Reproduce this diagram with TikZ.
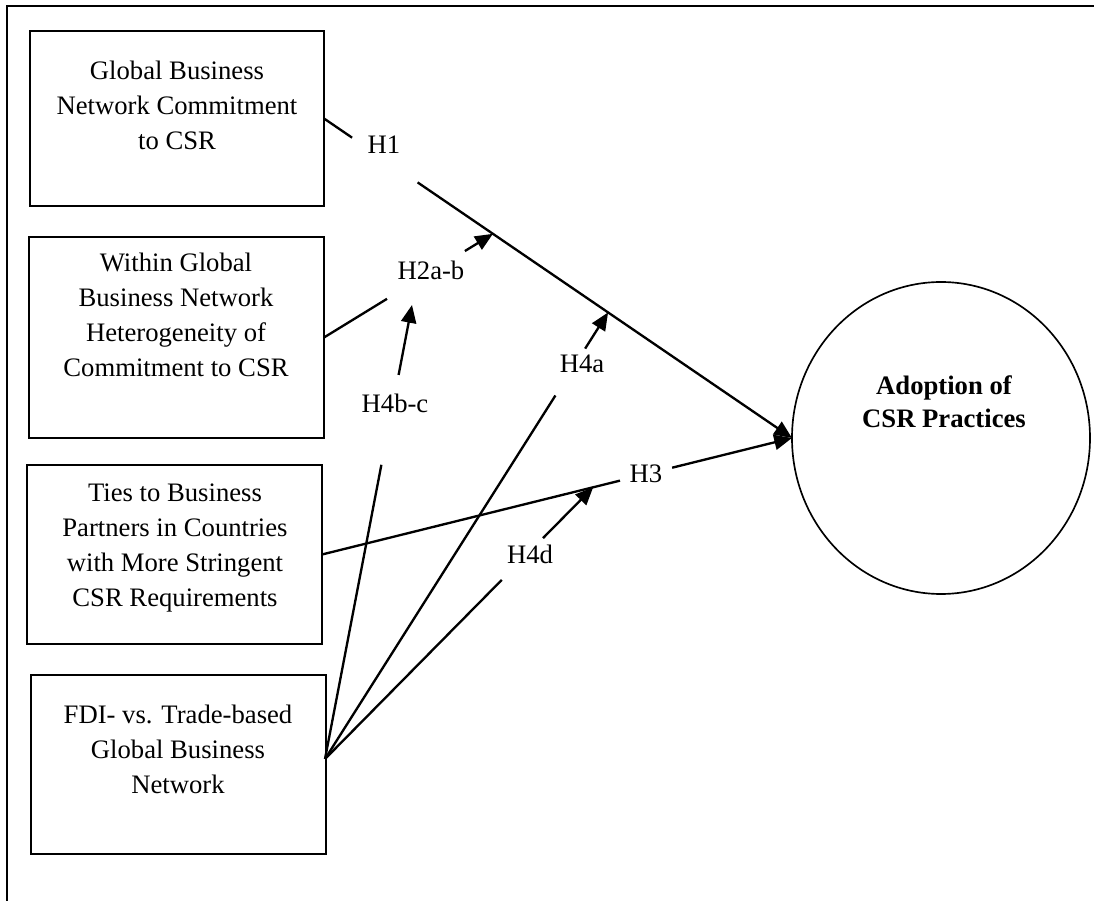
\documentclass[tikz,border=0pt]{standalone}
\usepackage{fontspec}
\setmainfont{Liberation Serif}
\usetikzlibrary{arrows.meta,shapes.geometric,calc}
\begin{document}
\begin{tikzpicture}[x=0.45pt,y=-0.45pt,
  frame/.style={line width=1.1pt},
  varbox/.style={draw,rectangle,line width=1pt,inner sep=0pt,outer sep=0pt},
  boxtext/.style={align=center,font=\fontsize{12}{15.75}\selectfont,inner sep=0pt},
  hyp/.style={font=\fontsize{12}{14}\selectfont,inner sep=0pt},
  link/.style={line width=1.05pt},
  effect/.style={link,-{Triangle[length=8pt,width=6.8pt]}},
]
\useasboundingbox (0,0) rectangle (1094,901);
% page frame (top and left rules)
\draw[frame] (7,901) -- (7,6) -- (1094,6);

% variable boxes
\node[varbox,minimum width=132.3pt,minimum height=78.75pt] (b1) at (177,118.5) {};
\node[varbox,minimum width=132.75pt,minimum height=90.45pt] (b2) at (176.5,337.5) {};
\node[varbox,minimum width=132.75pt,minimum height=80.55pt] (b3) at (174.5,554.5) {};
\node[varbox,minimum width=132.75pt,minimum height=80.55pt] (b4) at (178.5,764.5) {};
\node[draw,ellipse,line width=0.75pt,inner sep=0pt,outer sep=0pt,
      minimum width=134.1pt,minimum height=140.4pt] (ado) at (941,438) {};

% box texts
\node[boxtext] (t1) at (177,105) {Global Business\\Network Commitment\\to CSR};
\node[boxtext] (t2) at (176,315) {Within Global\\Business Network\\Heterogeneity of\\Commitment to CSR};
\node[boxtext] (t3) at (175,548) {Ties to Business\\Partners in Countries\\with More Stringent\\CSR Requirements};
\node[boxtext] (t4) at (178,749) {FDI- vs. Trade-based\\Global Business\\Network};
\node[boxtext,font=\fontsize{12}{15}\selectfont\bfseries] (t5) at (944,402) {Adoption of\\CSR Practices};

% hypothesis labels
\node[hyp] (h1) at (384,145) {H1};
\node[hyp] (h2) at (431,270) {H2a-b};
\node[hyp] (h3) at (646,474) {H3};
\node[hyp] (h4a) at (582,364) {H4a};
\node[hyp] (h4bc) at (395,403) {H4b-c};
\node[hyp] (h4d) at (530,554) {H4d};

% H1: main effect
\coordinate (h1s) at ($(b1.east)!0.06!(ado.west)$);
\coordinate (h1e) at ($(b1.east)!0.20!(ado.west)$);
\draw[link] (b1.east) -- (h1s);
\draw[effect] (h1e) -- (ado.west);

% H3: main effect
\coordinate (h3s) at ($(b3.east)!0.634!(ado.west)$);
\coordinate (h3e) at ($(b3.east)!0.745!(ado.west)$);
\draw[link] (b3.east) -- (h3s);
\draw[effect] (h3e) -- (ado.west);

% H2a-b: moderation of H1
\coordinate (h2t) at ($(b1.east)!0.361!(ado.west)$);
\coordinate (h2s) at ($(b2.east)!0.373!(h2t)$);
\coordinate (h2e) at ($(b2.east)!0.834!(h2t)$);
\draw[link] (b2.east) -- (h2s);
\draw[effect] (h2e) -- (h2t);

% H4: moderations by network type
\coordinate (src) at (325,759);

\coordinate (h4bct) at (412,305);
\coordinate (h4bcs) at ($(src)!0.648!(h4bct)$);
\coordinate (h4bce) at ($(src)!0.846!(h4bct)$);
\draw[link] (src) -- (h4bcs);
\draw[effect] (h4bce) -- (h4bct);

\coordinate (h4at) at ($(b1.east)!0.607!(ado.west)$);
\coordinate (h4as) at ($(src)!0.814!(h4at)$);
\coordinate (h4ae) at ($(src)!0.919!(h4at)$);
\draw[link] (src) -- (h4as);
\draw[effect] (h4ae) -- (h4at);

\coordinate (h4dt) at ($(b3.east)!0.577!(ado.west)$);
\coordinate (h4ds) at ($(src)!0.659!(h4dt)$);
\coordinate (h4de) at ($(src)!0.813!(h4dt)$);
\draw[link] (src) -- (h4ds);
\draw[effect] (h4de) -- (h4dt);
\end{tikzpicture}
\end{document}
